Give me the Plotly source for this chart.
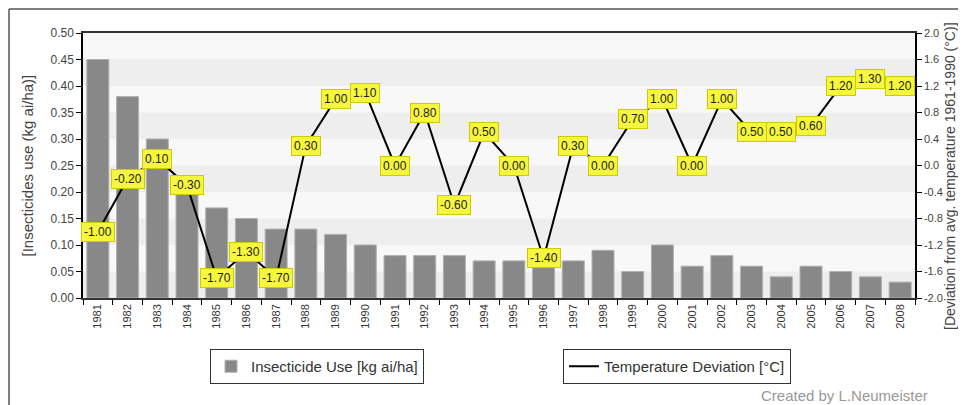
import plotly.graph_objects as go

years = [str(y) for y in range(1981, 2009)]
insecticide = [0.45, 0.38, 0.30, 0.22, 0.17, 0.15, 0.13, 0.13, 0.12, 0.10,
               0.08, 0.08, 0.08, 0.07, 0.07, 0.06, 0.07, 0.09, 0.05, 0.10,
               0.06, 0.08, 0.06, 0.04, 0.06, 0.05, 0.04, 0.03]
temp_dev = [-1.00, -0.20, 0.10, -0.30, -1.70, -1.30, -1.70, 0.30, 1.00, 1.10,
            0.00, 0.80, -0.60, 0.50, 0.00, -1.40, 0.30, 0.00, 0.70, 1.00,
            0.00, 1.00, 0.50, 0.50, 0.60, 1.20, 1.30, 1.20]
# right axis ticks, written with a plain hyphen like the original
temp_ticks = [-2.0, -1.6, -1.2, -0.8, -0.4, 0.0, 0.4, 0.8, 1.2, 1.6, 2.0]
temp_ticktext = ["-2.0", "-1.6", "-1.2", "-0.8", "-0.4", "0.0",
                 "0.4", "0.8", "1.2", "1.6", "2.0"]

FONT = "Liberation Sans, Arial, sans-serif"

# page has an 8px body margin, so the figure sits at (8, 8)
OFF = 8
W, H = 966 - OFF, 405 - OFF
L, R, T, B = 83 - OFF, 915 - OFF, 33 - OFF, 298 - OFF
PW, PH = R - L, B - T


def px_x(x):
    # page pixel -> paper coords
    return (x - OFF - L) / PW


def px_y(y):
    return (B - (y - OFF)) / PH


fig = go.Figure()

fig.add_trace(go.Bar(
    x=years, y=insecticide, name="Insecticide Use [kg ai/ha]",
    marker=dict(color="#888888", line=dict(color="#b0b0b0", width=1)),
    width=0.74, legend="legend", yaxis="y",
))

fig.add_trace(go.Scatter(
    x=years, y=temp_dev, name="Temperature Deviation [°C]",
    mode="lines", line=dict(color="#000000", width=2),
    legend="legend2", yaxis="y2",
))

# value labels (x = category index)
for i, v in enumerate(temp_dev):
    fig.add_annotation(
        x=i, y=v, xref="x", yref="y2", text=f"{v:.2f}", showarrow=False,
        font=dict(family=FONT, size=12, color="#222"),
        bgcolor="#f6f63c", bordercolor="#cccc00", borderwidth=1, borderpad=2,
    )

# alternating bands
shapes = []
for i in range(10):
    lo = i * 0.05
    if i % 2 == 0:
        shapes.append(dict(type="rect", xref="paper", yref="y", x0=0, x1=1,
                           y0=lo, y1=lo + 0.05, fillcolor="#eeeeee",
                           line=dict(width=0), layer="below"))
# outer frame
shapes.append(dict(type="line", xref="paper", yref="paper",
                   x0=px_x(9), x1=px_x(9), y0=px_y(9), y1=px_y(420),
                   line=dict(color="#555", width=1.5)))
shapes.append(dict(type="line", xref="paper", yref="paper",
                   x0=px_x(9), x1=px_x(1000), y0=px_y(9), y1=px_y(9),
                   line=dict(color="#555", width=1.5)))

fig.add_annotation(
    x=px_x(27), y=0.5, xref="paper", yref="paper", showarrow=False,
    xanchor="center", yanchor="middle",
    text="[Insecticides use (kg ai/ha)]", textangle=-90,
    font=dict(family=FONT, size=15, color="#444"),
)
fig.add_annotation(
    x=px_x(950), y=px_y(176), xref="paper", yref="paper", showarrow=False,
    xanchor="center", yanchor="middle",
    text="[Deviation from avg. temperature 1961-1990 (°C)]", textangle=-90,
    font=dict(family=FONT, size=14, color="#444"),
)
fig.add_annotation(
    x=px_x(930), y=px_y(395), xref="paper", yref="paper", showarrow=False,
    xanchor="right", yanchor="middle", text="Created by L.Neumeister",
    font=dict(family=FONT, size=15, color="#999"),
)

legend_style = dict(
    orientation="h", xanchor="left", yanchor="top",
    bordercolor="#333", borderwidth=1, bgcolor="#ffffff",
    font=dict(family=FONT, size=15, color="#333"),
)

fig.update_layout(
    width=W, height=H,
    margin=dict(l=L, r=W - R, t=T, b=H - B, autoexpand=False),
    paper_bgcolor="#ffffff",
    plot_bgcolor="#f8f8f8",
    font=dict(family=FONT, size=12, color="#444"),
    shapes=shapes,
    legend=dict(x=px_x(210), y=px_y(349), **legend_style),
    legend2=dict(x=px_x(563), y=px_y(349), **legend_style),
    xaxis=dict(
        type="category", range=[-0.5, len(years) - 0.5],
        tickson="boundaries", ticks="outside", ticklen=5,
        tickcolor="#000", tickangle=-90, showline=True, mirror=True,
        linecolor="#333", linewidth=1.5, showgrid=False,
        tickfont=dict(family=FONT, size=11, color="#333"),
    ),
    yaxis=dict(
        range=[0, 0.5], dtick=0.05, tickformat=".2f", ticks="outside",
        ticklen=5, tickcolor="#000", showline=True, linecolor="#000",
        linewidth=1.5, showgrid=False, zeroline=False,
        tickfont=dict(family=FONT, size=12, color="#444"),
    ),
    yaxis2=dict(
        range=[-2, 2], tickvals=temp_ticks, ticktext=temp_ticktext,
        overlaying="y", side="right", ticks="outside", ticklen=5,
        tickcolor="#000", showline=True, linecolor="#000", linewidth=1.5,
        showgrid=False, zeroline=False,
        tickfont=dict(family=FONT, size=11, color="#444"),
    ),
    showlegend=True,
)

fig.write_html("out.html")
